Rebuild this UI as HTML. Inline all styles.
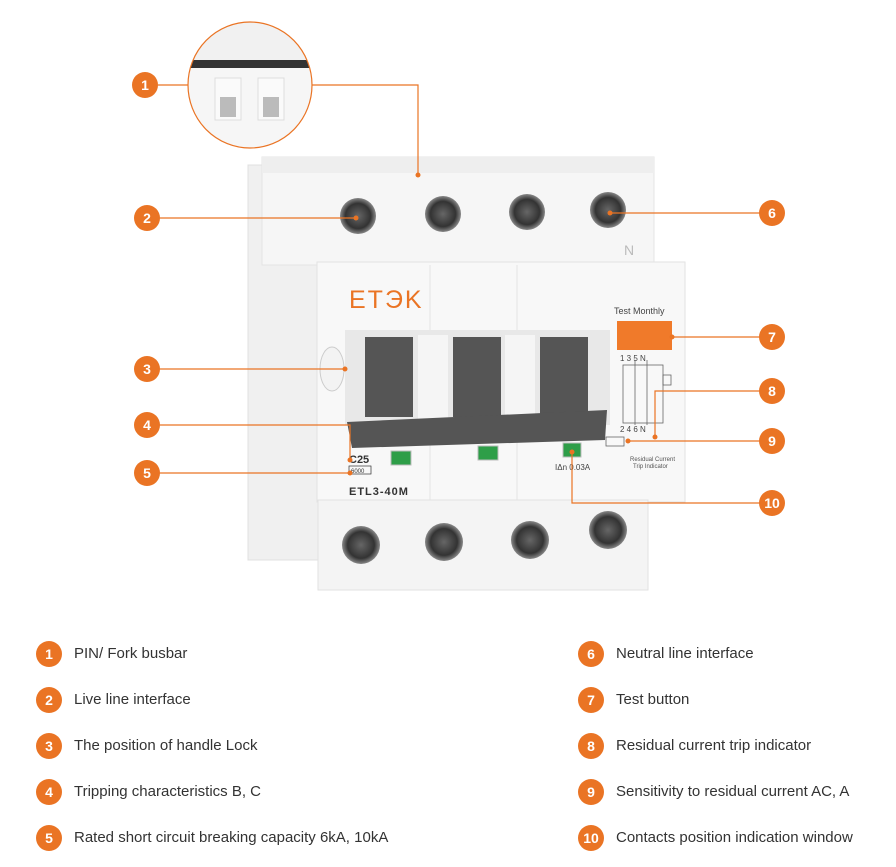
<!DOCTYPE html>
<html><head><meta charset="utf-8"><style>
body{margin:0;background:#fff;width:896px;height:867px;overflow:hidden;font-family:"Liberation Sans",sans-serif}
.leg{position:absolute;font-size:15px;color:#333}
.c{position:absolute;width:26px;height:26px;border-radius:50%;background:#ea7424;color:#fff;font-weight:bold;font-size:14px;text-align:center;line-height:26px}
</style></head><body>
<svg width="896" height="867" style="position:absolute;left:0;top:0">
<defs>
<radialGradient id="sc" cx="50%" cy="50%" r="50%"><stop offset="0" stop-color="#666"/><stop offset=".7" stop-color="#333"/><stop offset="1" stop-color="#888"/></radialGradient>
<clipPath id="mag"><ellipse cx="250" cy="85" rx="62" ry="63"/></clipPath>
</defs>
<g clip-path="url(#mag)">
<rect x="180" y="20" width="140" height="130" fill="#f1f1f1"/>
<rect x="180" y="60" width="140" height="8" fill="#333"/>
<rect x="180" y="68" width="140" height="80" fill="#f6f6f6"/>
<rect x="215" y="78" width="26" height="42" fill="#fafafa" stroke="#ddd"/>
<rect x="258" y="78" width="26" height="42" fill="#fafafa" stroke="#ddd"/>
<rect x="220" y="97" width="16" height="20" fill="#bbb"/>
<rect x="263" y="97" width="16" height="20" fill="#bbb"/>
</g>
<ellipse cx="250" cy="85" rx="62" ry="63" fill="none" stroke="#ea7424" stroke-width="1.2"/>
<rect x="248" y="165" width="70" height="395" fill="#f0f0f0" stroke="#e0e0e0"/>
<rect x="272" y="232" width="22" height="6" fill="#aaa" transform="rotate(10 283 235)"/>
<rect x="262" y="157" width="392" height="108" fill="#f6f6f6" stroke="#e4e4e4"/>
<rect x="262" y="157" width="392" height="16" fill="#eeeeee"/>
<rect x="317" y="262" width="368" height="240" fill="#f8f8f8" stroke="#e2e2e2"/>
<line x1="430" y1="265" x2="430" y2="335" stroke="#e3e3e3"/>
<line x1="517" y1="265" x2="517" y2="500" stroke="#e3e3e3"/>
<line x1="430" y1="440" x2="430" y2="500" stroke="#e3e3e3"/>
<rect x="318" y="500" width="330" height="90" fill="#f4f4f4" stroke="#e2e2e2"/>
<g fill="url(#sc)">
<circle cx="358" cy="216" r="18"/><circle cx="443" cy="214" r="18"/><circle cx="527" cy="212" r="18"/><circle cx="608" cy="210" r="18"/>
<circle cx="361" cy="545" r="19"/><circle cx="444" cy="542" r="19"/><circle cx="530" cy="540" r="19"/><circle cx="608" cy="530" r="19"/>
</g>
<text x="624" y="255" font-size="14" fill="#bbb">N</text>
<rect x="345" y="330" width="265" height="95" fill="#e8e8e8"/>
<rect x="365" y="337" width="48" height="80" fill="#555"/>
<rect x="453" y="337" width="48" height="80" fill="#555"/>
<rect x="540" y="337" width="48" height="80" fill="#555"/>
<rect x="418" y="335" width="30" height="85" fill="#f5f5f5"/>
<rect x="505" y="335" width="30" height="85" fill="#f5f5f5"/>
<path d="M347 422 L607 410 L605 440 L352 448 Z" fill="#555"/>
<ellipse cx="332" cy="369" rx="12" ry="22" fill="#f3f3f3" stroke="#ccc"/>
<text x="349" y="308" font-size="25" fill="#ea7424" letter-spacing="2">ETЭK</text>
<text x="614" y="314" font-size="9" fill="#444">Test Monthly</text>
<rect x="617" y="321" width="55" height="29" fill="#f07a2a"/>
<g stroke="#666" fill="none" stroke-width=".8">
<rect x="623" y="365" width="40" height="58"/><line x1="635" y1="360" x2="635" y2="425"/><line x1="647" y1="360" x2="647" y2="425"/>
<rect x="663" y="375" width="8" height="10"/><rect x="606" y="437" width="18" height="9"/>
</g>
<text x="620" y="361" font-size="8" fill="#444">1 3 5 N</text>
<text x="620" y="432" font-size="8" fill="#444">2 4 6 N</text>
<text x="630" y="461" font-size="6" fill="#555">Residual Current</text>
<text x="633" y="468" font-size="6" fill="#555">Trip Indicator</text>
<rect x="391" y="451" width="20" height="14" fill="#2e9e48" stroke="#bbb"/>
<rect x="478" y="446" width="20" height="14" fill="#2e9e48" stroke="#bbb"/>
<rect x="563" y="443" width="18" height="14" fill="#2e9e48" stroke="#bbb"/>
<text x="349" y="463" font-size="11" font-weight="bold" fill="#333">C25</text>
<rect x="349" y="466" width="22" height="8" fill="none" stroke="#333" stroke-width=".7"/>
<text x="351" y="473" font-size="6" fill="#333">6000</text>
<text x="349" y="495" font-size="11" font-weight="bold" fill="#333" letter-spacing="1">ETL3-40M</text>
<text x="555" y="470" font-size="8" fill="#444">IΔn 0.03A</text>
<g stroke="#ea7424" stroke-width="1.2" fill="none">
<polyline points="158,85 188,85"/>
<polyline points="312,85 418,85 418,175"/>
<line x1="158" y1="218" x2="356" y2="218"/>
<line x1="158" y1="369" x2="345" y2="369"/>
<polyline points="158,425 350,425 350,460"/>
<line x1="158" y1="473" x2="350" y2="473"/>
<line x1="610" y1="213" x2="762" y2="213"/>
<line x1="672" y1="337" x2="762" y2="337"/>
<polyline points="762,391 655,391 655,437"/>
<line x1="628" y1="441" x2="762" y2="441"/>
<polyline points="572,452 572,503 762,503"/>
</g>
<g fill="#ea7424">
<circle cx="418" cy="175" r="2.5"/><circle cx="356" cy="218" r="2.5"/><circle cx="345" cy="369" r="2.5"/><circle cx="350" cy="460" r="2.5"/><circle cx="350" cy="473" r="2.5"/><circle cx="610" cy="213" r="2.5"/><circle cx="672" cy="337" r="2.5"/><circle cx="655" cy="437" r="2.5"/><circle cx="628" cy="441" r="2.5"/><circle cx="572" cy="452" r="2.5"/>
</g>
</svg>
<div class="c" style="left:132px;top:72px">1</div>
<div class="c" style="left:134px;top:205px">2</div>
<div class="c" style="left:134px;top:356px">3</div>
<div class="c" style="left:134px;top:412px">4</div>
<div class="c" style="left:134px;top:460px">5</div>
<div class="c" style="left:759px;top:200px">6</div>
<div class="c" style="left:759px;top:324px">7</div>
<div class="c" style="left:759px;top:378px">8</div>
<div class="c" style="left:759px;top:428px">9</div>
<div class="c" style="left:759px;top:490px">10</div>

<div class="c" style="left:36px;top:641px">1</div><div class="leg" style="left:74px;top:645px">PIN/ Fork busbar</div>
<div class="c" style="left:36px;top:687px">2</div><div class="leg" style="left:74px;top:691px">Live line interface</div>
<div class="c" style="left:36px;top:733px">3</div><div class="leg" style="left:74px;top:737px">The position of handle Lock</div>
<div class="c" style="left:36px;top:779px">4</div><div class="leg" style="left:74px;top:783px">Tripping characteristics B, C</div>
<div class="c" style="left:36px;top:825px">5</div><div class="leg" style="left:74px;top:829px">Rated short circuit breaking capacity 6kA, 10kA</div>
<div class="c" style="left:578px;top:641px">6</div><div class="leg" style="left:616px;top:645px">Neutral line interface</div>
<div class="c" style="left:578px;top:687px">7</div><div class="leg" style="left:616px;top:691px">Test button</div>
<div class="c" style="left:578px;top:733px">8</div><div class="leg" style="left:616px;top:737px">Residual current trip indicator</div>
<div class="c" style="left:578px;top:779px">9</div><div class="leg" style="left:616px;top:783px">Sensitivity to residual current AC, A</div>
<div class="c" style="left:578px;top:825px">10</div><div class="leg" style="left:616px;top:829px">Contacts position indication window</div>
</body></html>
